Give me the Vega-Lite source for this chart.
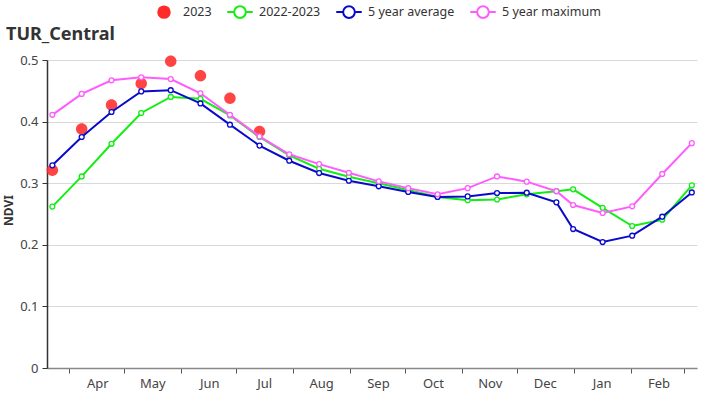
{
  "$schema": "https://vega.github.io/schema/vega-lite/v6.json",
  "width": 650,
  "height": 308,
  "autosize": {"type": "none"},
  "padding": {"left": 47, "top": 60, "right": 29, "bottom": 32},
  "background": "white",
  "config": {
    "font": "Noto Sans",
    "view": {"stroke": null},
    "legend": {
      "orient": "none", "direction": "horizontal", "legendX": 103, "legendY": -62,
      "labelFontSize": 12.5, "labelColor": "#333333", "labelOffset": 5, "columnPadding": 11,
      "symbolSize": 650, "symbolStrokeWidth": 2, "symbolOpacity": 1
    }
  },
  "title": {"text": "TUR_Central", "anchor": "start", "frame": "group", "fontSize": 18, "fontWeight": "bold", "color": "#333333", "dx": -41, "offset": 0, "dy": 46},
  "data": {"values": [
    {"date": "2023-03-22T18:00:00", "series": "2023", "ndvi": 0.321},
    {"date": "2023-04-07T18:00:00", "series": "2023", "ndvi": 0.388},
    {"date": "2023-04-24T00:00:00", "series": "2023", "ndvi": 0.427},
    {"date": "2023-05-10T05:00:00", "series": "2023", "ndvi": 0.462},
    {"date": "2023-05-26T07:00:00", "series": "2023", "ndvi": 0.498},
    {"date": "2023-06-11T12:00:00", "series": "2023", "ndvi": 0.4745},
    {"date": "2023-06-27T14:00:00", "series": "2023", "ndvi": 0.438},
    {"date": "2023-07-13T17:00:00", "series": "2023", "ndvi": 0.384},

    {"date": "2023-03-22T18:00:00", "series": "2022-2023", "ndvi": 0.262},
    {"date": "2023-04-07T18:00:00", "series": "2022-2023", "ndvi": 0.311},
    {"date": "2023-04-24T00:00:00", "series": "2022-2023", "ndvi": 0.364},
    {"date": "2023-05-10T05:00:00", "series": "2022-2023", "ndvi": 0.414},
    {"date": "2023-05-26T07:00:00", "series": "2022-2023", "ndvi": 0.440},
    {"date": "2023-06-11T12:00:00", "series": "2022-2023", "ndvi": 0.437},
    {"date": "2023-06-27T14:00:00", "series": "2022-2023", "ndvi": 0.410},
    {"date": "2023-07-13T17:00:00", "series": "2022-2023", "ndvi": 0.375},
    {"date": "2023-07-29T22:00:00", "series": "2022-2023", "ndvi": 0.345},
    {"date": "2023-08-15T05:00:00", "series": "2022-2023", "ndvi": 0.3235},
    {"date": "2023-08-31T10:00:00", "series": "2022-2023", "ndvi": 0.3106},
    {"date": "2023-09-16T17:00:00", "series": "2022-2023", "ndvi": 0.300},
    {"date": "2023-10-02T19:00:00", "series": "2022-2023", "ndvi": 0.289},
    {"date": "2023-10-18T19:00:00", "series": "2022-2023", "ndvi": 0.2776},
    {"date": "2023-11-04T05:00:00", "series": "2022-2023", "ndvi": 0.2725},
    {"date": "2023-11-20T05:00:00", "series": "2022-2023", "ndvi": 0.2735},
    {"date": "2023-12-06T10:00:00", "series": "2022-2023", "ndvi": 0.282},
    {"date": "2023-12-22T14:00:00", "series": "2022-2023", "ndvi": 0.287},
    {"date": "2023-12-31T17:00:00", "series": "2022-2023", "ndvi": 0.290},
    {"date": "2024-01-16T19:00:00", "series": "2022-2023", "ndvi": 0.260},
    {"date": "2024-02-01T22:00:00", "series": "2022-2023", "ndvi": 0.2305},
    {"date": "2024-02-18T07:00:00", "series": "2022-2023", "ndvi": 0.2407},
    {"date": "2024-03-05T10:00:00", "series": "2022-2023", "ndvi": 0.2964},

    {"date": "2023-03-22T18:00:00", "series": "5 year average", "ndvi": 0.329},
    {"date": "2023-04-07T18:00:00", "series": "5 year average", "ndvi": 0.375},
    {"date": "2023-04-24T00:00:00", "series": "5 year average", "ndvi": 0.4156},
    {"date": "2023-05-10T05:00:00", "series": "5 year average", "ndvi": 0.449},
    {"date": "2023-05-26T07:00:00", "series": "5 year average", "ndvi": 0.451},
    {"date": "2023-06-11T12:00:00", "series": "5 year average", "ndvi": 0.4295},
    {"date": "2023-06-27T14:00:00", "series": "5 year average", "ndvi": 0.395},
    {"date": "2023-07-13T17:00:00", "series": "5 year average", "ndvi": 0.361},
    {"date": "2023-07-29T22:00:00", "series": "5 year average", "ndvi": 0.3365},
    {"date": "2023-08-15T05:00:00", "series": "5 year average", "ndvi": 0.3165},
    {"date": "2023-08-31T10:00:00", "series": "5 year average", "ndvi": 0.304},
    {"date": "2023-09-16T17:00:00", "series": "5 year average", "ndvi": 0.295},
    {"date": "2023-10-02T19:00:00", "series": "5 year average", "ndvi": 0.2857},
    {"date": "2023-10-18T19:00:00", "series": "5 year average", "ndvi": 0.2776},
    {"date": "2023-11-04T05:00:00", "series": "5 year average", "ndvi": 0.2786},
    {"date": "2023-11-20T05:00:00", "series": "5 year average", "ndvi": 0.284},
    {"date": "2023-12-06T10:00:00", "series": "5 year average", "ndvi": 0.2846},
    {"date": "2023-12-22T14:00:00", "series": "5 year average", "ndvi": 0.2689},
    {"date": "2023-12-31T17:00:00", "series": "5 year average", "ndvi": 0.2256},
    {"date": "2024-01-16T19:00:00", "series": "5 year average", "ndvi": 0.2045},
    {"date": "2024-02-01T22:00:00", "series": "5 year average", "ndvi": 0.2148},
    {"date": "2024-02-18T07:00:00", "series": "5 year average", "ndvi": 0.2456},
    {"date": "2024-03-05T10:00:00", "series": "5 year average", "ndvi": 0.285},

    {"date": "2023-03-22T18:00:00", "series": "5 year maximum", "ndvi": 0.411},
    {"date": "2023-04-07T18:00:00", "series": "5 year maximum", "ndvi": 0.445},
    {"date": "2023-04-24T00:00:00", "series": "5 year maximum", "ndvi": 0.467},
    {"date": "2023-05-10T05:00:00", "series": "5 year maximum", "ndvi": 0.472},
    {"date": "2023-05-26T07:00:00", "series": "5 year maximum", "ndvi": 0.469},
    {"date": "2023-06-11T12:00:00", "series": "5 year maximum", "ndvi": 0.446},
    {"date": "2023-06-27T14:00:00", "series": "5 year maximum", "ndvi": 0.411},
    {"date": "2023-07-13T17:00:00", "series": "5 year maximum", "ndvi": 0.376},
    {"date": "2023-07-29T22:00:00", "series": "5 year maximum", "ndvi": 0.347},
    {"date": "2023-08-15T05:00:00", "series": "5 year maximum", "ndvi": 0.331},
    {"date": "2023-08-31T10:00:00", "series": "5 year maximum", "ndvi": 0.317},
    {"date": "2023-09-16T17:00:00", "series": "5 year maximum", "ndvi": 0.303},
    {"date": "2023-10-02T19:00:00", "series": "5 year maximum", "ndvi": 0.292},
    {"date": "2023-10-18T19:00:00", "series": "5 year maximum", "ndvi": 0.282},
    {"date": "2023-11-04T05:00:00", "series": "5 year maximum", "ndvi": 0.292},
    {"date": "2023-11-20T05:00:00", "series": "5 year maximum", "ndvi": 0.311},
    {"date": "2023-12-06T10:00:00", "series": "5 year maximum", "ndvi": 0.3025},
    {"date": "2023-12-22T14:00:00", "series": "5 year maximum", "ndvi": 0.287},
    {"date": "2023-12-31T17:00:00", "series": "5 year maximum", "ndvi": 0.2646},
    {"date": "2024-01-16T19:00:00", "series": "5 year maximum", "ndvi": 0.2516},
    {"date": "2024-02-01T22:00:00", "series": "5 year maximum", "ndvi": 0.2624},
    {"date": "2024-02-18T07:00:00", "series": "5 year maximum", "ndvi": 0.315},
    {"date": "2024-03-05T10:00:00", "series": "5 year maximum", "ndvi": 0.365}
  ]},
  "encoding": {
    "x": {
      "field": "date", "type": "temporal",
      "scale": {"domain": [{"year": 2023, "month": "mar", "date": 19, "hours": 20}, {"year": 2024, "month": "mar", "date": 8, "hours": 6}], "nice": false},
      "axis": {
        "title": null, "grid": false,
        "tickCount": {"interval": "month", "step": 1},
        "labelExpr": "timeFormat(datum.value, '%b') === 'Mar' ? '' : timeFormat(datum.value, '%b')",
        "labelOffset": 28, "labelAlign": "center", "labelOverlap": false, "labelFlush": false, "labelBound": false,
        "labelFontSize": 13, "labelColor": "#444444", "labelPadding": 4,
        "domainColor": "#888888", "domainWidth": 1.5, "tickColor": "#555555", "tickSize": 5, "tickWidth": 1
      }
    },
    "y": {
      "field": "ndvi", "type": "quantitative",
      "scale": {"domain": [0, 0.5], "nice": false, "zero": true},
      "axis": {
        "title": "NDVI", "titleFontSize": 12, "titleFontWeight": "bold", "titleColor": "#333333", "titlePadding": 4, "titleY": 150,
        "values": [0, 0.1, 0.2, 0.3, 0.4, 0.5], "format": ".1~f",
        "labelFontSize": 13, "labelColor": "#444444", "labelPadding": 4,
        "grid": true, "gridColor": "#d9d9d9", "gridWidth": 1,
        "domainColor": "#333333", "domainWidth": 1.5, "tickColor": "#333333", "tickSize": 5
      }
    },
    "stroke": {
      "field": "series", "type": "nominal",
      "scale": {"domain": ["2023", "2022-2023", "5 year average", "5 year maximum"], "range": ["#ff2a2a", "#11ee11", "#0a0acc", "#ff5cff"]},
      "legend": {"title": null}
    }
  },
  "layer": [
    {
      "transform": [{"filter": "datum.series === '2023'"}],
      "mark": {"type": "point", "filled": true, "opacity": 0.88, "strokeWidth": 0, "size": 650},
      "encoding": {
        "fill": {
          "field": "series", "type": "nominal",
          "scale": {"domain": ["2023", "2022-2023", "5 year average", "5 year maximum"], "range": ["#ff2a2a", "#ffffff", "#ffffff", "#ffffff"]},
          "legend": {"title": null}
        },
        "shape": {
          "field": "series", "type": "nominal",
          "scale": {"domain": ["2023", "2022-2023", "5 year average", "5 year maximum"], "range": ["M0.45,0A0.45,0.45 0 1 1 -0.45,0A0.45,0.45 0 1 1 0.45,0Z", "M-1,0L-0.46,0M0.46,0L1,0M0.46,0A0.46,0.46 0 1 1 -0.46,0A0.46,0.46 0 1 1 0.46,0Z", "M-1,0L-0.46,0M0.46,0L1,0M0.46,0A0.46,0.46 0 1 1 -0.46,0A0.46,0.46 0 1 1 0.46,0Z", "M-1,0L-0.46,0M0.46,0L1,0M0.46,0A0.46,0.46 0 1 1 -0.46,0A0.46,0.46 0 1 1 0.46,0Z"]},
          "legend": {"title": null}
        }
      }
    },
    {"transform": [{"filter": "datum.series === '2022-2023'"}], "mark": {"type": "line", "strokeWidth": 2}},
    {"transform": [{"filter": "datum.series === '2022-2023'"}], "mark": {"type": "point", "shape": "circle", "filled": false, "fill": "white", "fillOpacity": 1, "opacity": 1, "size": 24, "strokeWidth": 1.3}},
    {"transform": [{"filter": "datum.series === '5 year average'"}], "mark": {"type": "line", "strokeWidth": 2}},
    {"transform": [{"filter": "datum.series === '5 year average'"}], "mark": {"type": "point", "shape": "circle", "filled": false, "fill": "white", "fillOpacity": 1, "opacity": 1, "size": 24, "strokeWidth": 1.3}},
    {"transform": [{"filter": "datum.series === '5 year maximum'"}], "mark": {"type": "line", "strokeWidth": 2}},
    {"transform": [{"filter": "datum.series === '5 year maximum'"}], "mark": {"type": "point", "shape": "circle", "filled": false, "fill": "white", "fillOpacity": 1, "opacity": 1, "size": 24, "strokeWidth": 1.3}}
  ]
}
